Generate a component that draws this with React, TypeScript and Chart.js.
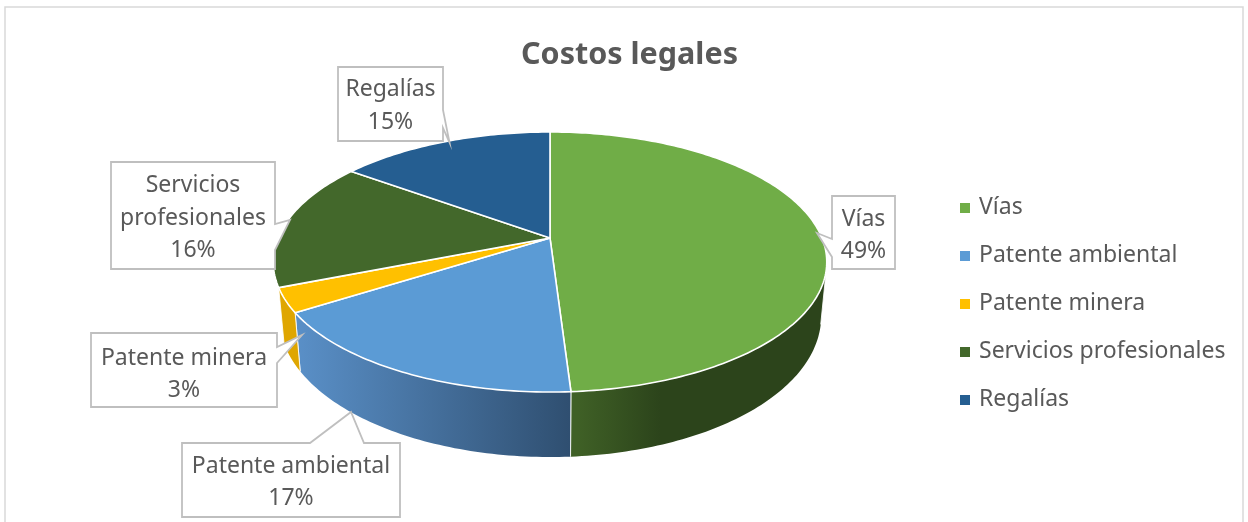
import React, { useEffect, useRef } from "react";
import { Chart, registerables } from "chart.js";

Chart.register(...registerables);

const categories = ["Vías", "Patente ambiental", "Patente minera", "Servicios profesionales", "Regalías"];
const shares = [49, 17, 3, 16, 15];
const faceColors = ["#70AD47", "#5B9BD5", "#FFC000", "#43682B", "#255E91"];
const chartTitle = "Costos legales";
const labelRows = [["Vías"], ["Patente ambiental"], ["Patente minera"], ["Servicios", "profesionales"], ["Regalías"]];

const TEXT = "#595959";
const FONT = "'Noto Sans', 'Open Sans', sans-serif";

// Tilted disc: rim of a unit circle seen through a simple perspective projection.
const DISC = { cx: 550, cy: 238, r: 272, squash: 125.6, perspective: 0.1846 };
// Lower rim of the disc, and the part of it facing the viewer (degrees clockwise from the top).
const RIM = { shrink: 0.98, drop: 51.3, dropFront: 13.7, visibleFrom: 104, visibleTo: 249 };

type Pt = [number, number];

const rimPoint = (deg: number): Pt => {
  const a = (deg * Math.PI) / 180;
  const w = 1 + DISC.perspective * Math.cos(a);
  return [DISC.cx + (DISC.r * Math.sin(a)) / w, DISC.cy - (DISC.squash * Math.cos(a)) / w];
};

const lowerPoint = (deg: number): Pt => {
  const [x, y] = rimPoint(deg);
  const a = (deg * Math.PI) / 180;
  return [DISC.cx + (x - DISC.cx) * RIM.shrink, y + RIM.drop - RIM.dropFront * Math.cos(a)];
};

const sweep = (from: number, to: number, fn: (d: number) => Pt): Pt[] => {
  const out: Pt[] = [];
  const n = Math.max(2, Math.ceil(to - from));
  for (let i = 0; i <= n; i++) out.push(fn(from + ((to - from) * i) / n));
  return out;
};

const trace = (ctx: CanvasRenderingContext2D, pts: Pt[]) => {
  ctx.beginPath();
  pts.forEach(([x, y], i) => (i ? ctx.lineTo(x, y) : ctx.moveTo(x, y)));
  ctx.closePath();
};

// Square swatch for a legend entry, so the gap to the text can be set separately.
const swatch = (color: string) => {
  const c = document.createElement("canvas");
  c.width = 10;
  c.height = 10;
  const g = c.getContext("2d")!;
  g.fillStyle = color;
  g.fillRect(0, 0, 10, 10);
  return c;
};

// Shading of the visible wall per category: start colour, end colour, gradient span in x.
const WALL_SHADES: Record<number, [string, string, number, number]> = {
  0: ["#3F6026", "#2C441B", 578, 660],
  1: ["#5A90C8", "#2E4D6E", 295, 578],
  2: ["#DFA600", "#DFA600", 275, 300],
};

// Callout outlines: box edges, then the pointer as base, tip, base on the given side,
// listed in the clockwise order of the outline. Rows are the text centre lines.
const CALLOUTS = [
  { box: [832, 196, 895, 269], side: "left", notch: [[832, 257], [817, 233], [832, 239]] as Pt[], rows: [219, 251] },
  { box: [182, 443, 400, 517], side: "top", notch: [[310, 443], [351, 412], [364, 443]] as Pt[], rows: [466, 498] },
  { box: [91, 333, 277, 407], side: "right", notch: [[277, 347], [302, 335], [277, 363]] as Pt[], rows: [358, 390] },
  { box: [111, 162, 275, 269], side: "right", notch: [[275, 224], [290, 220], [275, 250]] as Pt[], rows: [185, 218, 250] },
  { box: [338, 67, 443, 141], side: "right", notch: [[443, 110], [449.5, 142.5], [443, 128]] as Pt[], rows: [89, 122] },
];

const pieDepth = {
  id: "pieDepth",
  beforeDatasetsDraw(chart: Chart) {
    const ctx = chart.ctx;
    const arcs = chart.getDatasetMeta(0).data as any[];
    const spans = arcs.map((arc) => {
      const p = arc.getProps(["startAngle", "endAngle"], true);
      return [((p.startAngle + Math.PI / 2) * 180) / Math.PI, ((p.endAngle + Math.PI / 2) * 180) / Math.PI];
    });
    ctx.save();

    // Walls first, clipped to the range of the rim that faces the viewer.
    spans.forEach(([s, e], i) => {
      const from = Math.max(s, RIM.visibleFrom);
      const to = Math.min(e, RIM.visibleTo);
      const shade = WALL_SHADES[i];
      if (!shade || from >= to) return;
      const top = sweep(from, to, rimPoint);
      const bottom = sweep(from, to, lowerPoint).reverse();
      const g = ctx.createLinearGradient(shade[2], 0, shade[3], 0);
      g.addColorStop(0, shade[0]);
      g.addColorStop(1, shade[1]);
      trace(ctx, [...top, ...bottom]);
      ctx.fillStyle = g;
      ctx.fill();
      ctx.strokeStyle = "rgba(255,255,255,0.85)";
      ctx.lineWidth = 1;
      ctx.beginPath();
      ctx.moveTo(...rimPoint(from));
      ctx.lineTo(...lowerPoint(from));
      ctx.moveTo(...rimPoint(to));
      ctx.lineTo(...lowerPoint(to));
      ctx.stroke();
    });

    // Top faces.
    spans.forEach(([s, e], i) => {
      trace(ctx, [[DISC.cx, DISC.cy], ...sweep(s, e, rimPoint)]);
      ctx.fillStyle = faceColors[i];
      ctx.fill();
      ctx.strokeStyle = "#FFFFFF";
      ctx.lineWidth = 1.6;
      ctx.lineJoin = "round";
      ctx.stroke();
    });

    // Callouts carry the category name and its share.
    CALLOUTS.forEach((c, i) => {
      const [l, t, r, b] = c.box;
      const pts: Pt[] = [[l, t]];
      if (c.side === "top") pts.push(...c.notch);
      pts.push([r, t]);
      if (c.side === "right") pts.push(...c.notch);
      pts.push([r, b], [l, b]);
      if (c.side === "left") pts.push(...c.notch);
      trace(ctx, pts);
      ctx.fillStyle = "#FFFFFF";
      ctx.fill();
      ctx.strokeStyle = "#BFBFBF";
      ctx.lineWidth = 1.8;
      ctx.lineJoin = "miter";
      ctx.stroke();
      ctx.fillStyle = TEXT;
      ctx.font = `23px ${FONT}`;
      ctx.textAlign = "center";
      ctx.textBaseline = "middle";
      const lines = [...labelRows[i], `${shares[i]}%`];
      lines.forEach((line, j) => ctx.fillText(line, (l + r) / 2, c.rows[j]));
    });

    ctx.restore();
    return false;
  },
};

const frame = {
  id: "frame",
  beforeDraw(chart: Chart) {
    const ctx = chart.ctx;
    ctx.save();
    ctx.fillStyle = "#FFFFFF";
    ctx.fillRect(0, 0, chart.width, chart.height);
    ctx.strokeStyle = "#D9D9D9";
    ctx.lineWidth = 1.5;
    ctx.strokeRect(5, 7, 1238, 530);
    ctx.restore();
  },
};

export default function App() {
  const ref = useRef<HTMLCanvasElement>(null);
  useEffect(() => {
    const chart = new Chart(ref.current!, {
      type: "pie",
      data: {
        labels: categories,
        datasets: [{ data: shares, backgroundColor: faceColors, borderWidth: 0 }],
      },
      options: {
        animation: false,
        responsive: false,
        layout: { padding: { left: 23.5, right: 12.5, top: 37, bottom: 0 } },
        plugins: {
          tooltip: { enabled: false },
          title: {
            display: true,
            text: chartTitle,
            color: TEXT,
            font: { family: FONT, size: 30.5, weight: "bold" },
            padding: { top: 0, bottom: 11.4 },
          },
          legend: {
            position: "right",
            fullSize: false,
            labels: {
              color: TEXT,
              font: { family: FONT, size: 23 },
              usePointStyle: true,
              pointStyleWidth: 6,
              boxHeight: 10,
              padding: 25,
              generateLabels: (c: Chart) =>
                categories.map((text, index) => ({
                  text,
                  index,
                  fontColor: TEXT,
                  fillStyle: faceColors[index],
                  strokeStyle: faceColors[index],
                  lineWidth: 0,
                  hidden: !c.getDataVisibility(index),
                  pointStyle: swatch(faceColors[index]),
                })),
            },
          },
        },
      },
      plugins: [frame, pieDepth],
    });
    return () => chart.destroy();
  }, []);
  return (
    <div style={{ position: "fixed", left: 0, top: 0, width: 1248, height: 522, overflow: "hidden" }}>
      <canvas ref={ref} width={1248} height={522} style={{ display: "block" }} />
    </div>
  );
}
